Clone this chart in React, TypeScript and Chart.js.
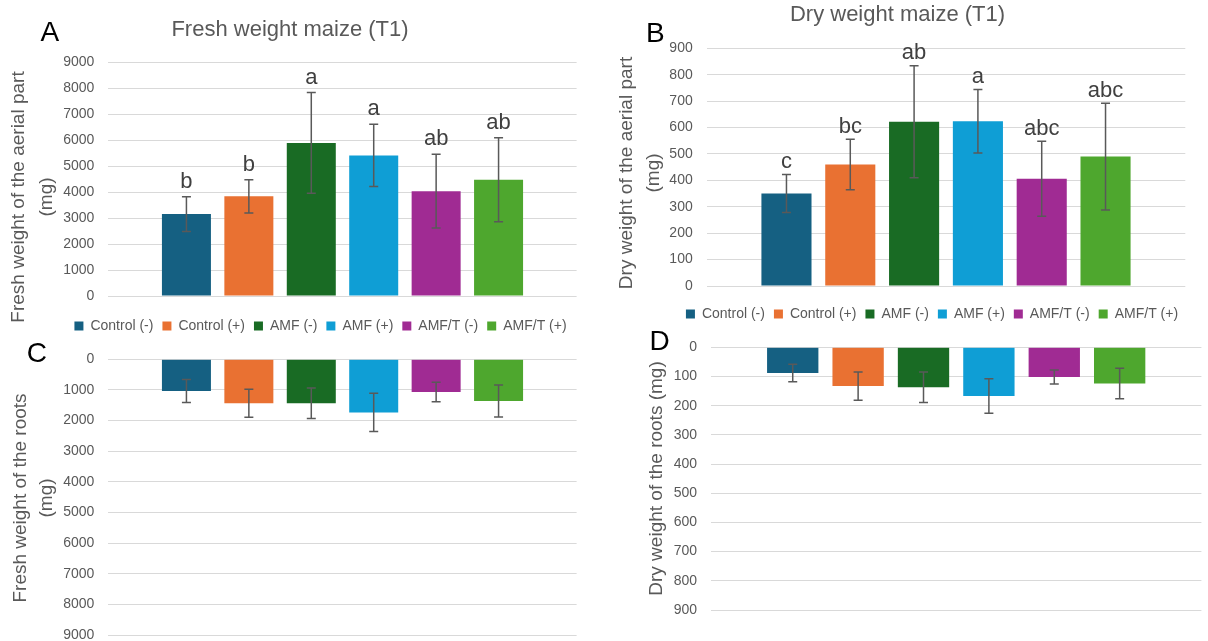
import React, { useEffect, useRef } from 'react';
import { Chart, registerables } from 'chart.js';

Chart.register(...registerables);

// ---------------- data ----------------
const seriesNames = ['Control (-)', 'Control (+)', 'AMF (-)', 'AMF (+)', 'AMF/T (-)', 'AMF/T (+)'];
const categoryLabels = ['T1'];

const freshAerialMeans = [3160, 3840, 5900, 5420, 4040, 4480];
const freshAerialErrors = [670, 640, 1940, 1200, 1420, 1620];
const freshAerialLetters = ['b', 'b', 'a', 'a', 'ab', 'ab'];

const dryAerialMeans = [350, 460, 622, 624, 406, 490];
const dryAerialErrors = [72, 96, 212, 120, 142, 202];
const dryAerialLetters = ['c', 'bc', 'ab', 'a', 'abc', 'abc'];

const freshRootMeans = [1035, 1435, 1435, 1735, 1068, 1362];
const freshRootErrors = [375, 457, 500, 625, 316, 522];

const dryRootMeans = [88, 133, 137, 167, 102, 124];
const dryRootErrors = [30, 48, 52, 59, 24, 52];

const freshAxisMax = 9000;
const freshAxisStep = 1000;
const dryAxisMax = 900;
const dryAxisStep = 100;

// ---------------- style ----------------
const seriesColors = ['#156082', '#E97132', '#196B24', '#0F9ED5', '#A02B93', '#4EA72E'];
const FONT = "'Liberation Sans', Arial, sans-serif";
const GRAY = '#595959';
const GRID = '#d9d9d9';
const LETTER_COLOR = '#404040';

type Panel = {
  id: string;
  rect: { left: number; top: number; width: number; height: number };
  padding: { top: number; left: number; right: number; bottom: number };
  yWidth: number;
  rightWidth: number;
  xHeight: number;
  legend: boolean;
  max: number;
  step: number;
  reverse: boolean;
  means: number[];
  errors: number[];
  letters: string[] | null;
  letterOffset: number;
  panelLetter: { text: string; x: number; y: number };
  title: { text: string; x: number; y: number } | null;
  yTitle: { lines: string[]; xs: number[]; y: number };
};

const panels: Panel[] = [
  {
    id: 'A',
    rect: { left: 0, top: 0, width: 641, height: 343 },
    padding: { top: 62.5, left: 0, right: 0, bottom: 0 },
    yWidth: 108.4,
    rightWidth: 64.4,
    xHeight: 14,
    legend: true,
    max: freshAxisMax,
    step: freshAxisStep,
    reverse: false,
    means: freshAerialMeans,
    errors: freshAerialErrors,
    letters: freshAerialLetters,
    letterOffset: 9,
    panelLetter: { text: 'A', x: 40.6, y: 40.7 },
    title: { text: 'Fresh weight maize (T1)', x: 290, y: 36 },
    yTitle: { lines: ['Fresh weight of the aerial part', '(mg)'], xs: [19, 46.4], y: 197 },
  },
  {
    id: 'B',
    rect: { left: 610, top: 0, width: 644, height: 331 },
    padding: { top: 48.3, left: 0, right: 0, bottom: 0 },
    yWidth: 96.7,
    rightWidth: 68.7,
    xHeight: 12,
    legend: true,
    max: dryAxisMax,
    step: dryAxisStep,
    reverse: false,
    means: dryAerialMeans,
    errors: dryAerialErrors,
    letters: dryAerialLetters,
    letterOffset: 6.5,
    panelLetter: { text: 'B', x: 646, y: 42 },
    title: { text: 'Dry weight maize (T1)', x: 897.5, y: 20.7 },
    yTitle: { lines: ['Dry weight of the aerial part', '(mg)'], xs: [627, 654], y: 173 },
  },
  {
    id: 'C',
    rect: { left: 0, top: 335, width: 600, height: 330 },
    padding: { top: 24.3, left: 0, right: 23.4, bottom: 30 },
    yWidth: 108.4,
    rightWidth: 0,
    xHeight: 0,
    legend: false,
    max: freshAxisMax,
    step: freshAxisStep,
    reverse: true,
    means: freshRootMeans,
    errors: freshRootErrors,
    letters: null,
    letterOffset: 0,
    panelLetter: { text: 'C', x: 26.8, y: 362 },
    title: null,
    yTitle: { lines: ['Fresh weight of the roots', '(mg)'], xs: [21, 47], y: 498 },
  },
  {
    id: 'D',
    rect: { left: 610, top: 320, width: 598, height: 330 },
    padding: { top: 27.3, left: 0, right: 6.6, bottom: 40 },
    yWidth: 101,
    rightWidth: 0,
    xHeight: 0,
    legend: false,
    max: dryAxisMax,
    step: dryAxisStep,
    reverse: true,
    means: dryRootMeans,
    errors: dryRootErrors,
    letters: null,
    letterOffset: 0,
    panelLetter: { text: 'D', x: 649.6, y: 350 },
    title: null,
    yTitle: { lines: ['Dry weight of the roots (mg)'], xs: [657], y: 478.5 },
  },
];

function makeOverlay(p: Panel) {
  const ox = p.rect.left;
  const oy = p.rect.top;
  return {
    id: 'overlay' + p.id,
    afterDatasetsDraw(chart: any) {
      const ctx = chart.ctx as CanvasRenderingContext2D;
      const yScale = chart.scales.y;
      ctx.save();
      p.means.forEach((m, i) => {
        const bar = chart.getDatasetMeta(i).data[0];
        if (!bar) return;
        const x = bar.x;
        const e = p.errors[i];
        const yHi = yScale.getPixelForValue(m + e);
        const yLo = yScale.getPixelForValue(m - e);
        ctx.strokeStyle = GRAY;
        ctx.lineWidth = 1.5;
        ctx.beginPath();
        ctx.moveTo(x, yHi);
        ctx.lineTo(x, yLo);
        ctx.moveTo(x - 4.5, yHi);
        ctx.lineTo(x + 4.5, yHi);
        ctx.moveTo(x - 4.5, yLo);
        ctx.lineTo(x + 4.5, yLo);
        ctx.stroke();
        if (p.letters) {
          ctx.fillStyle = LETTER_COLOR;
          ctx.font = `22px ${FONT}`;
          ctx.textAlign = 'center';
          ctx.textBaseline = 'alphabetic';
          ctx.fillText(p.letters[i], x, Math.min(yHi, yLo) - p.letterOffset);
        }
      });
      ctx.restore();
    },
    afterDraw(chart: any) {
      const ctx = chart.ctx as CanvasRenderingContext2D;
      ctx.save();
      // panel letter
      ctx.fillStyle = '#000';
      ctx.font = `28px ${FONT}`;
      ctx.textAlign = 'left';
      ctx.textBaseline = 'alphabetic';
      ctx.fillText(p.panelLetter.text, p.panelLetter.x - ox, p.panelLetter.y - oy);
      // chart title
      if (p.title) {
        ctx.fillStyle = GRAY;
        ctx.font = `22px ${FONT}`;
        ctx.textAlign = 'center';
        ctx.fillText(p.title.text, p.title.x - ox, p.title.y - oy);
      }
      // y axis title
      ctx.fillStyle = GRAY;
      ctx.font = `19px ${FONT}`;
      ctx.textAlign = 'center';
      ctx.textBaseline = 'middle';
      p.yTitle.lines.forEach((line, i) => {
        ctx.save();
        ctx.translate(p.yTitle.xs[i] - ox, p.yTitle.y - oy);
        ctx.rotate(-Math.PI / 2);
        ctx.fillText(line, 0, 0);
        ctx.restore();
      });
      ctx.restore();
    },
  };
}

function PanelChart({ p }: { p: Panel }) {
  const ref = useRef<HTMLCanvasElement | null>(null);
  useEffect(() => {
    if (!ref.current) return;
    const scales: any = {
      x: {
        type: 'category',
        display: p.xHeight > 0,
        grid: { display: false },
        border: { display: false },
        ticks: { display: false },
        afterFit: (s: any) => {
          s.height = p.xHeight;
        },
      },
      y: {
        type: 'linear',
        position: 'left',
        min: 0,
        max: p.max,
        reverse: p.reverse,
        grid: { color: GRID, lineWidth: 1, drawTicks: false },
        border: { display: false },
        ticks: {
          stepSize: p.step,
          padding: 14,
          color: GRAY,
          font: { size: 14, family: FONT },
          callback: (v: any) => String(v),
        },
        afterFit: (s: any) => {
          s.width = p.yWidth;
        },
      },
    };
    if (p.rightWidth > 0) {
      scales.yR = {
        type: 'linear',
        position: 'right',
        display: true,
        grid: { display: false },
        border: { display: false },
        ticks: { display: false },
        afterFit: (s: any) => {
          s.width = p.rightWidth;
        },
      };
    }
    const chart = new Chart(ref.current, {
      type: 'bar',
      data: {
        labels: categoryLabels,
        datasets: seriesNames.map((name, i) => ({
          label: name,
          data: [p.means[i]],
          backgroundColor: seriesColors[i],
          borderWidth: 0,
          categoryPercentage: 0.8,
          barPercentage: 0.785,
          xAxisID: 'x',
          yAxisID: 'y',
        })),
      },
      options: {
        responsive: false,
        animation: false,
        events: [],
        layout: { padding: p.padding },
        scales,
        plugins: {
          title: { display: false },
          tooltip: { enabled: false },
          legend: {
            display: p.legend,
            position: 'bottom',
            labels: {
              boxWidth: 9,
              boxHeight: 9,
              padding: 9,
              color: GRAY,
              font: { size: 14, family: FONT },
            },
          },
        },
      },
      plugins: [makeOverlay(p)],
    } as any);
    return () => chart.destroy();
  }, [p]);
  return (
    <canvas
      ref={ref}
      width={p.rect.width}
      height={p.rect.height}
      style={{
        position: 'absolute',
        left: p.rect.left,
        top: p.rect.top,
        width: p.rect.width,
        height: p.rect.height,
      }}
    />
  );
}

export default function App() {
  return (
    <div
      style={{
        position: 'absolute',
        left: 0,
        top: 0,
        width: 1208,
        height: 641,
        overflow: 'hidden',
        background: '#ffffff',
      }}
    >
      {panels.map((p) => (
        <PanelChart key={p.id} p={p} />
      ))}
    </div>
  );
}
